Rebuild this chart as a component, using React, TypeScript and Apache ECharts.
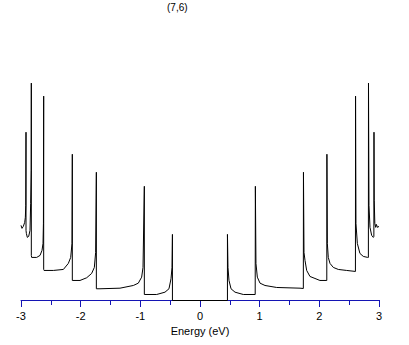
import React, { useEffect, useRef } from "react";
import * as echarts from "echarts";

const titleText = "(7,6)";
const xAxisName = "Energy (eV)";
const xTicks = [-3, -2, -1, 0, 1, 2, 3];

// Density of states: [energy (eV), DOS (arb. units)]
const dosNegative: [number, number][] = [
  [-3.0, 0.75], [-2.983, 0.72], [-2.961, 0.74], [-2.938, 0.78], [-2.927, 0.83],
  [-2.92, 0.95], [-2.916, 1.68], [-2.916, 0.7], [-2.91, 0.67], [-2.894, 0.63],
  [-2.871, 0.64], [-2.849, 0.7], [-2.838, 0.97], [-2.829, 1.3], [-2.827, 2.17],
  [-2.827, 0.45], [-2.821, 0.43], [-2.737, 0.43], [-2.681, 0.45], [-2.648, 0.5],
  [-2.631, 0.57], [-2.624, 0.77], [-2.62, 2.04], [-2.62, 0.31], [-2.614, 0.3],
  [-2.458, 0.3], [-2.29, 0.31], [-2.207, 0.37], [-2.167, 0.43], [-2.145, 0.57],
  [-2.14, 1.46], [-2.14, 0.2], [-2.134, 0.2], [-2.011, 0.2], [-1.899, 0.227],
  [-1.816, 0.27], [-1.771, 0.33], [-1.749, 0.48], [-1.737, 1.28], [-1.737, 0.117],
  [-1.676, 0.117], [-1.341, 0.123], [-1.117, 0.15], [-1.034, 0.173], [-0.978, 0.233],
  [-0.955, 0.33], [-0.933, 1.14], [-0.933, 0.06], [-0.927, 0.06], [-0.726, 0.06],
  [-0.587, 0.083], [-0.52, 0.117], [-0.486, 0.217], [-0.469, 0.33], [-0.462, 0.66],
  [-0.462, 0],
];

const dosPositive: [number, number][] = [
  [0.46, 0], [0.46, 0.66], [0.469, 0.33], [0.486, 0.2], [0.52, 0.117],
  [0.587, 0.083], [0.726, 0.06], [0.925, 0.06], [0.928, 1.14], [0.938, 0.37],
  [0.961, 0.233], [1.006, 0.173], [1.089, 0.15], [1.285, 0.13], [1.676, 0.123],
  [1.732, 0.12], [1.734, 1.28], [1.743, 0.48], [1.76, 0.4], [1.788, 0.3],
  [1.843, 0.24], [1.927, 0.22], [2.01, 0.2], [2.125, 0.2], [2.127, 1.46],
  [2.134, 0.57], [2.15, 0.43], [2.179, 0.37], [2.235, 0.33], [2.318, 0.31],
  [2.458, 0.3], [2.605, 0.29], [2.607, 2.04], [2.614, 0.77], [2.637, 0.57],
  [2.68, 0.47], [2.737, 0.44], [2.81, 0.43], [2.822, 0.43], [2.824, 2.17],
  [2.832, 0.95], [2.849, 0.73], [2.877, 0.65], [2.905, 0.63], [2.914, 0.64],
  [2.916, 1.68], [2.92, 1.0], [2.93, 0.77], [2.945, 0.73], [2.955, 0.76],
  [2.975, 0.73], [3.0, 0.74],
];

const dosAll: [number, number][] = [...dosNegative, ...dosPositive];

export default function App() {
  const ref = useRef<HTMLDivElement>(null);
  useEffect(() => {
    if (!ref.current) return;
    const chart = echarts.init(ref.current, undefined, { renderer: "svg" });
    const font = "Liberation Sans, Arial, sans-serif";
    chart.setOption({
      animation: false,
      backgroundColor: "#ffffff",
      title: {
        text: titleText,
        left: 167,
        top: 2,
        padding: 0,
        textStyle: { fontSize: 10, fontWeight: "normal", color: "#000", fontFamily: font },
      },
      grid: { left: 21, right: 30, top: 30, bottom: 45 },
      xAxis: {
        type: "value",
        min: xTicks[0],
        max: xTicks[xTicks.length - 1],
        interval: 1,
        name: xAxisName,
        nameLocation: "middle",
        nameGap: 24,
        nameTextStyle: { fontSize: 11, color: "#000", fontFamily: font },
        axisLine: { show: true, onZero: false, lineStyle: { color: "#1414b4", width: 1 } },
        axisTick: { show: true, length: 7, lineStyle: { color: "#1414b4" } },
        minorTick: { show: true, splitNumber: 2, length: 5, lineStyle: { color: "#1414b4" } },
        axisLabel: { fontSize: 11, color: "#000", margin: 10, fontFamily: font },
        splitLine: { show: false },
        z: 0,
      },
      yAxis: {
        type: "value",
        min: 0.005,
        max: 2.7,
        show: false,
        splitLine: { show: false },
      },
      series: [
        {
          type: "line",
          data: dosAll,
          showSymbol: false,
          symbol: "none",
          clip: false,
          lineStyle: { color: "#000", width: 1 },
          z: 10,
        },
      ],
    });
    return () => chart.dispose();
  }, []);
  return (
    <div
      ref={ref}
      style={{ position: "absolute", left: 0, top: 0, width: 409, height: 345, background: "#fff" }}
    />
  );
}
